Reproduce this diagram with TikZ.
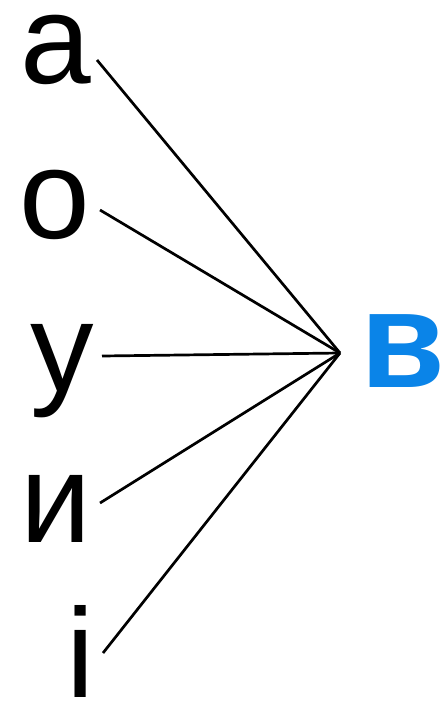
\documentclass[tikz,border=0pt]{standalone}
\usepackage{fontspec}
\setmainfont{Liberation Sans}
\definecolor{letterblue}{RGB}{10,132,232}
\begin{document}
\begin{tikzpicture}[x=1pt,y=-1pt,
  letter/.style={inner sep=0pt, anchor=base, text height=0.72em, text depth=0pt, font=\fontsize{127}{130}\selectfont},
  bluel/.style={letter, font=\fontsize{138}{140}\selectfont\bfseries, text=letterblue},
  link/.style={line width=2.7pt, black}]
\useasboundingbox (0,0) rectangle (446,707);
\fill[white] (0,0) rectangle (446,707);
\node[letter] (a) at (56,83) {а};
\node[letter] (o) at (55,238) {о};
\node[letter, text depth=0.2em] (u) at (62,391) {у};
\node[letter] (i) at (56,542) {и};
\node[letter] (ii) at (80.5,697) {і};
\node[bluel] (v) at (403,387) {в};
\coordinate (a1) at (97,60);
\coordinate (o1) at (100,210);
\coordinate (u1) at (102,356);
\coordinate (i1) at (100,503);
\coordinate (ii1) at (103,653);
\coordinate (hub) at (340,353);
\draw[link] (a1) -- (hub);
\draw[link] (o1) -- (hub);
\draw[link] (u1) -- (hub);
\draw[link] (i1) -- (hub);
\draw[link] (ii1) -- (hub);
\end{tikzpicture}
\end{document}
